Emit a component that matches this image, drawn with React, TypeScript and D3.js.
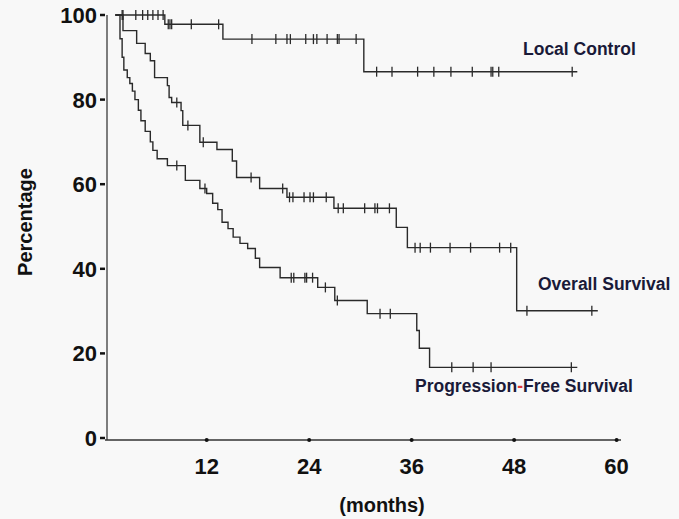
import React from "react";
import * as d3 from "d3";

// Kaplan-Meier curves: [months, percentage] where each point is a step start
const localControl: [number, number][] = [
  [1.3, 100], [7.1, 97.8], [13.9, 94.3], [30.4, 86.6], [55.4, 86.6],
];
const localControlCensor = [
  2.1, 2.2, 3.7, 4.5, 5.1, 5.7, 6.3, 6.9, 7.5, 7.7, 7.9, 10.2, 13.4,
  17.3, 20.1, 21.4, 21.8, 23.6, 24.5, 24.9, 26.1, 27.3, 27.5, 29.5,
  31.9, 33.7, 36.7, 38.6, 40.6, 43.1, 45.3, 45.5, 46.2, 54.8,
];

const overallSurvival: [number, number][] = [
  [1.3, 100], [2.2, 96.3], [3.8, 93.3], [4.8, 90.9], [5.4, 89.2], [5.9, 85.2],
  [7.4, 83.3], [7.6, 80.5], [7.9, 79.3], [9.0, 77.4], [9.2, 73.9], [11.2, 69.9],
  [13.2, 68.2], [15.0, 65.5], [15.5, 61.6], [18.2, 59], [21.4, 56.9],
  [26.9, 54.3], [34.2, 49.8], [35.5, 45.0], [48.3, 30.1], [57.8, 30.1],
];
const overallSurvivalCensor = [
  8.5, 9.8, 11.6, 17.2, 20.9, 21.7, 22.1, 23.4, 24.1, 24.5, 26.0,
  27.4, 28.0, 30.5, 31.7, 32.0, 33.4, 36.4, 37.0, 38.2, 40.5, 42.9,
  46.3, 47.6, 49.5, 57.1,
];

const progressionFree: [number, number][] = [
  [1.3, 100], [1.85, 94.4], [2.1, 90], [2.3, 87], [2.7, 85.2], [3.0, 83.8],
  [3.3, 82], [3.6, 80], [4.0, 77.5], [4.3, 75], [4.8, 72.5], [5.4, 70],
  [5.7, 68], [6.2, 66], [7.4, 64.4], [9.5, 60.9], [11.2, 59], [12.0, 57.8],
  [12.7, 55.5], [13.3, 54], [13.8, 51], [14.5, 49.5], [15.1, 47.5],
  [15.9, 46], [16.8, 44.8], [17.7, 42.5], [18.2, 40.3], [20.6, 37.9],
  [25.0, 35.6], [27.0, 32.5], [30.8, 29.4], [36.6, 25.4], [36.9, 21.2],
  [38.1, 16.7], [55.4, 16.7],
];
const progressionFreeCensor = [
  8.5, 11.8, 21.9, 22.2, 23.5, 23.7, 24.4, 25.9, 27.3, 32.3, 33.5,
  40.7, 43.2, 45.3, 54.7,
];

const xTicks = [12, 24, 36, 48, 60];
const yTicks = [0, 20, 40, 60, 80, 100];

const width = 679;
const height = 519;

const x = d3.scaleLinear().domain([0, 60]).range([104.2, 616.6]);
const y = d3.scaleLinear().domain([0, 100]).range([438, 15]);

const line = d3
  .line<[number, number]>()
  .x((d) => x(d[0]))
  .y((d) => y(d[1]))
  .curve(d3.curveStepAfter);

const valueAt = (steps: [number, number][], t: number) => {
  let v = steps[0][1];
  steps.forEach((s) => {
    if (s[0] <= t) v = s[1];
  });
  return v;
};

const font = "'Liberation Sans', Arial, sans-serif";

const Curve = ({ steps, censor }: { steps: [number, number][]; censor: number[] }) => (
  <g stroke="#2a2a2a" strokeWidth={1.4} fill="none">
    <path d={line(steps) || ""} />
    {censor.map((t, i) => {
      const cx = x(t);
      const cy = y(valueAt(steps, t));
      return <line key={i} x1={cx} x2={cx} y1={cy - 5} y2={cy + 5} strokeWidth={1.3} />;
    })}
  </g>
);

export default function App() {
  const axisX = 107;
  const axisY = 440;
  return (
    <svg
      width={width}
      height={height}
      style={{ position: "absolute", left: 0, top: 0, background: "#f8f8f8" }}
      fontFamily={font}
    >
      {/* y axis */}
      <line x1={axisX} x2={axisX} y1={y(100)} y2={axisY} stroke="#555" strokeWidth={1.5} />
      {yTicks.map((t) => (
        <g key={t}>
          <line x1={100} x2={105} y1={y(t)} y2={y(t)} stroke="#111" strokeWidth={2.5} />
          <text x={97} y={y(t)} dy="0.36em" textAnchor="end" fontSize={22} fontWeight="bold" fill="#111">
            {t}
          </text>
        </g>
      ))}
      {/* x axis */}
      <line x1={axisX - 2} x2={621} y1={axisY} y2={axisY} stroke="#333" strokeWidth={1.6} />
      {xTicks.map((t) => (
        <g key={t}>
          <circle cx={x(t)} cy={axisY} r={2} fill="#111" />
          <text x={x(t)} y={474} textAnchor="middle" fontSize={22} fontWeight="bold" fill="#111">
            {t}
          </text>
        </g>
      ))}
      <text x={382} y={512} textAnchor="middle" fontSize={20} fontWeight="bold" fill="#111">
        (months)
      </text>
      <text
        transform="translate(32,222) rotate(-90)"
        textAnchor="middle"
        fontSize={20}
        fontWeight="bold"
        fill="#111"
      >
        Percentage
      </text>

      <Curve steps={localControl} censor={localControlCensor} />
      <Curve steps={overallSurvival} censor={overallSurvivalCensor} />
      <Curve steps={progressionFree} censor={progressionFreeCensor} />

      <g fontSize={17.5} fontWeight="bold" fill="#1a1a38">
        <text x={523} y={55}>Local Control</text>
        <text x={538} y={290}>Overall Survival</text>
        <text x={415} y={392}>
          Progression<tspan fill="#e03a3a">-</tspan>Free Survival
        </text>
      </g>
    </svg>
  );
}
